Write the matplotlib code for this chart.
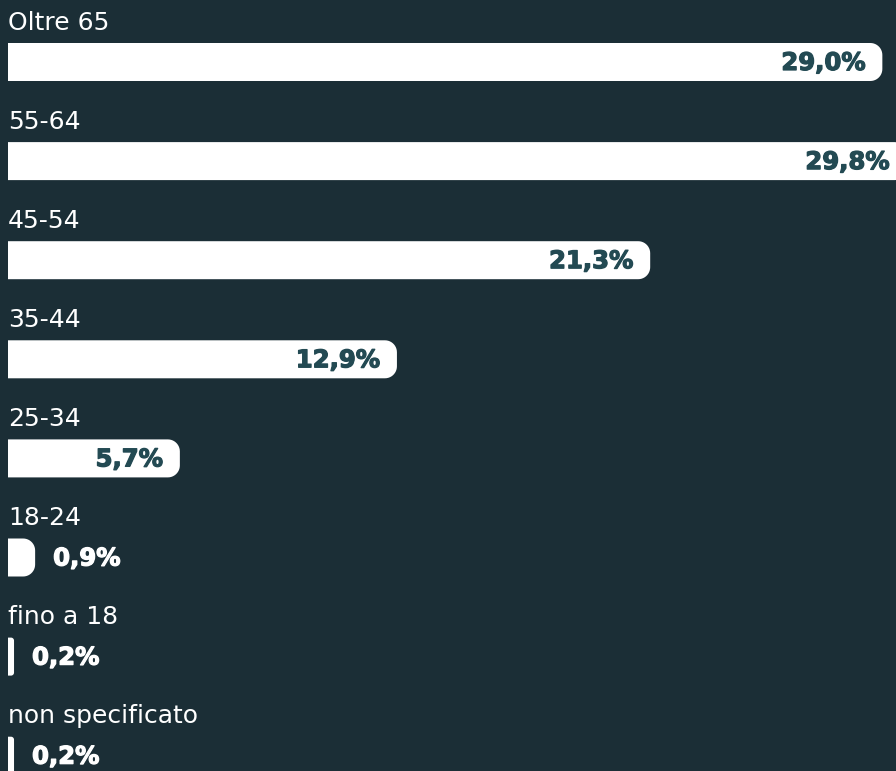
import numpy as np
import matplotlib
matplotlib.use("Agg")
import matplotlib.pyplot as plt
import matplotlib.patheffects as pe
from matplotlib.patches import PathPatch
from matplotlib.path import Path

categories = ["Oltre 65", "55-64", "45-54", "35-44", "25-34", "18-24", "fino a 18", "non specificato"]
values = [29.0, 29.8, 21.3, 12.9, 5.7, 0.9, 0.2, 0.2]
value_labels = ["29,0%", "29,8%", "21,3%", "12,9%", "5,7%", "0,9%", "0,2%", "0,2%"]

BG = "#1b2e36"
BAR = "#ffffff"
VAL_DARK = "#234a53"

W, H = 896, 771
PX_PER_X = 30.15     # pixels per percent
PX_PER_ROW = 99.1    # pixels per row
X0_PX = 8
Y0_PX = 62
BAR_H_PX = 38
R_PX = 12

fig = plt.figure(figsize=(W / 100, H / 100), dpi=100, facecolor=BG)
ax = fig.add_axes([0, 0, 1, 1])
ax.set_facecolor(BG)
ax.set_xlim(-X0_PX / PX_PER_X, (W - X0_PX) / PX_PER_X)
ax.set_ylim((H - Y0_PX) / PX_PER_ROW, -Y0_PX / PX_PER_ROW)
ax.axis("off")

bar_h = BAR_H_PX / PX_PER_ROW


def rounded_bar(v, yc):
    """Bar from 0 to v with rounded right corners (single polygon)."""
    w_px = v * PX_PER_X
    r_px = min(R_PX, w_px / 2)
    rx = r_px / PX_PER_X
    ry = r_px / PX_PER_ROW
    top = yc - bar_h / 2
    bot = yc + bar_h / 2
    pts = [(0, top), (v - rx, top)]
    for a in np.linspace(-np.pi / 2, 0, 12):
        pts.append((v - rx + rx * np.cos(a), top + ry + ry * np.sin(a)))
    for a in np.linspace(0, np.pi / 2, 12):
        pts.append((v - rx + rx * np.cos(a), bot - ry + ry * np.sin(a)))
    pts += [(0, bot), (0, top)]
    return PathPatch(Path(pts, closed=True), facecolor=BAR, edgecolor="none",
                     zorder=2, snap=False)


label_font = dict(family="DejaVu Sans", fontsize=18, color="white")
val_font = dict(family="DejaVu Sans", fontsize=17.5, fontweight="bold")

for i, (cat, v, lab) in enumerate(zip(categories, values, value_labels)):
    ax.add_patch(rounded_bar(v, i))
    w_px = v * PX_PER_X
    ax.annotate(cat, xy=(0, i), xytext=(0, 32.5), textcoords="offset pixels",
                ha="left", va="baseline", annotation_clip=False, **label_font)
    if w_px > 110:
        col, ha, dx = VAL_DARK, "right", -17
    else:
        col, ha, dx = "white", "left", 18
    ax.annotate(lab, xy=(v, i), xytext=(dx, -8), textcoords="offset pixels",
                ha=ha, va="baseline", color=col, zorder=3, annotation_clip=False,
                path_effects=[pe.withStroke(linewidth=0.9, foreground=col)],
                **val_font)

fig.savefig("out.png", dpi=100, facecolor=BG)
